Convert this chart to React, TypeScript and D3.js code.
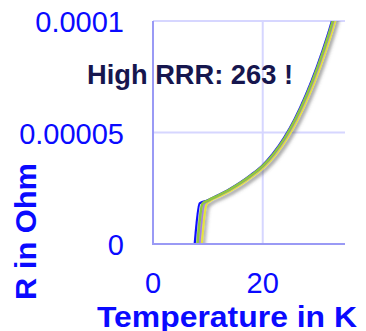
import React, { useEffect, useRef } from 'react';
import * as d3 from 'd3';

// resistance values are in units of 1e-5 Ohm
const tempBlue = [7.6, 8.5, 9.85, 11.85, 13.85, 15.85, 17.85, 19.85, 21.85, 23.85, 25.85, 27.85, 29.85, 31.85, 32.85];
const rBlue = [0, 1.82, 1.95, 2.19, 2.45, 2.75, 3.1, 3.5, 4.05, 4.75, 5.62, 6.68, 7.93, 9.38, 10.2];

const tempGreen = [8.1, 9.0, 10, 12, 14, 16, 18, 20, 22, 24, 26, 28, 30, 32, 33];
const rGreen = [0, 1.8, 1.95, 2.19, 2.45, 2.75, 3.1, 3.5, 4.05, 4.75, 5.62, 6.68, 7.93, 9.38, 10.2];

const tempPurple = [8.5, 9.35, 10.2, 12.2, 14.2, 16.2, 18.2, 20.2, 22.2, 24.2, 26.2, 28.2, 30.2, 32.2, 33.2];
const rPurple = [0, 1.78, 1.94, 2.18, 2.44, 2.74, 3.09, 3.49, 4.04, 4.74, 5.61, 6.67, 7.92, 9.37, 10.19];

const tempYellow = [8.9, 9.75, 10.45, 12.45, 14.45, 16.45, 18.45, 20.45, 22.45, 24.45, 26.45, 28.45, 30.45, 32.45, 33.45];
const rYellow = [0, 1.77, 1.93, 2.17, 2.43, 2.73, 3.08, 3.48, 4.03, 4.73, 5.6, 6.66, 7.91, 9.36, 10.18];

const xTicks = [0, 20];
const xTickLabels = ['0', '20'];
const yTicks = [0, 5, 10];
const yTickLabels = ['0', '0.00005', '0.0001'];

// drawn back to front
const series = [
  { name: 'blue', temps: tempBlue, values: rBlue, color: '#1010ff', width: 2.2 },
  { name: 'yellow', temps: tempYellow, values: rYellow, color: '#e6e43a', width: 2 },
  { name: 'purple', temps: tempPurple, values: rPurple, color: '#a47fe0', width: 1.6 },
  { name: 'green', temps: tempGreen, values: rGreen, color: '#8dc63f', width: 2.6 },
];

const App = () => {
  const svgRef = useRef<SVGSVGElement>(null);

  useEffect(() => {
    const svg = d3.select(svgRef.current);
    svg.selectAll('*').remove();

    const left = 153, right = 345, top = 21, bottom = 244;
    const font = '"Liberation Sans", Arial, sans-serif';
    const textBlue = '#0a0aff';

    const x = d3.scaleLinear().domain([0, 35]).range([left, right]);
    const y = d3.scaleLinear().domain([0, 10]).range([bottom, top]);

    const defs = svg.append('defs');
    defs.append('clipPath').attr('id', 'plot-clip')
      .append('rect')
      .attr('x', left).attr('y', top)
      .attr('width', right - left).attr('height', bottom - top);
    defs.append('filter').attr('id', 'shadow')
      .attr('x', '-20%').attr('y', '-20%').attr('width', '140%').attr('height', '140%')
      .append('feDropShadow')
      .attr('dx', 2.5).attr('dy', 2.5).attr('stdDeviation', 1.5)
      .attr('flood-color', '#555').attr('flood-opacity', 0.5);

    // grid
    const grid = svg.append('g').attr('stroke', '#d6d6ff').attr('stroke-width', 2);
    yTicks.filter(d => d > 0).forEach(t => {
      grid.append('line')
        .attr('x1', left).attr('x2', right)
        .attr('y1', y(t)).attr('y2', y(t));
    });
    xTicks.filter(d => d > 0).forEach(t => {
      grid.append('line')
        .attr('x1', x(t)).attr('x2', x(t))
        .attr('y1', top).attr('y2', bottom);
    });

    // curves
    const line = d3.line<[number, number]>()
      .x(d => x(d[0]))
      .y(d => y(d[1]))
      .curve(d3.curveMonotoneX);

    const lines = svg.append('g')
      .attr('clip-path', 'url(#plot-clip)')
      .append('g')
      .attr('filter', 'url(#shadow)');

    series.forEach(s => {
      const pts = s.temps.map((t, i) => [t, s.values[i]] as [number, number]);
      lines.append('path')
        .datum(pts)
        .attr('fill', 'none')
        .attr('stroke', s.color)
        .attr('stroke-width', s.width)
        .attr('stroke-linejoin', 'round')
        .attr('d', line);
    });

    // axis lines
    svg.append('path')
      .attr('d', `M${left},${top}V${bottom}H${right}`)
      .attr('fill', 'none')
      .attr('stroke', '#9a9af5')
      .attr('stroke-width', 2);

    // tick labels
    svg.append('g').selectAll('text')
      .data(yTicks)
      .enter()
      .append('text')
      .attr('x', 124)
      .attr('y', d => y(d) + 1)
      .attr('dy', '0.35em')
      .attr('text-anchor', 'end')
      .attr('fill', textBlue)
      .style('font-family', font)
      .style('font-size', '29px')
      .text((d, i) => yTickLabels[i]);

    svg.append('g').selectAll('text')
      .data(xTicks)
      .enter()
      .append('text')
      .attr('x', d => x(d))
      .attr('y', 293)
      .attr('text-anchor', 'middle')
      .attr('fill', textBlue)
      .style('font-family', font)
      .style('font-size', '29px')
      .text((d, i) => xTickLabels[i]);

    // axis titles
    svg.append('text')
      .attr('x', 227)
      .attr('y', 327)
      .attr('text-anchor', 'middle')
      .attr('fill', textBlue)
      .attr('textLength', 260)
      .attr('lengthAdjust', 'spacingAndGlyphs')
      .style('font-family', font)
      .style('font-size', '29px')
      .style('font-weight', 'bold')
      .text('Temperature in K');

    svg.append('text')
      .attr('transform', 'translate(36,231.5) rotate(-90)')
      .attr('text-anchor', 'middle')
      .attr('fill', textBlue)
      .attr('textLength', 137)
      .attr('lengthAdjust', 'spacingAndGlyphs')
      .style('font-family', font)
      .style('font-size', '30px')
      .style('font-weight', 'bold')
      .text('R in Ohm');

    // annotation
    svg.append('text')
      .attr('x', 87)
      .attr('y', 84)
      .attr('fill', '#16164e')
      .attr('textLength', 206)
      .attr('lengthAdjust', 'spacingAndGlyphs')
      .style('font-family', font)
      .style('font-size', '28px')
      .style('font-weight', 'bold')
      .text('High RRR: 263 !');
  }, []);

  return (
    <div style={{ position: 'absolute', left: 0, top: 0 }}>
      <svg ref={svgRef} width={366} height={331} style={{ display: 'block', background: '#fff' }}></svg>
    </div>
  );
};

export default App;
